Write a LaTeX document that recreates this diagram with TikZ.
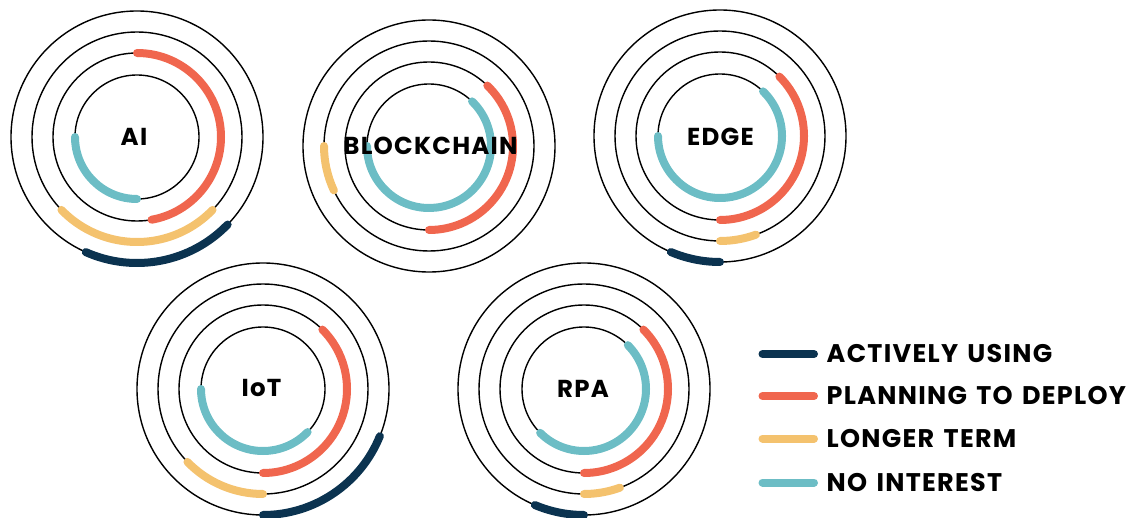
\documentclass[tikz,border=0pt]{standalone}
\usepackage{fontspec}
\setmainfont{Poppins}[LetterSpace=5,WordSpace=1.4]
\definecolor{navy}{HTML}{0B3350}
\definecolor{coral}{HTML}{F0664E}
\definecolor{sand}{HTML}{F4C26E}
\definecolor{aqua}{HTML}{6CBDC5}

\begin{document}
\begin{tikzpicture}[x=1pt,y=1pt]
   \tikzset{ring/.style={draw=black,line width=1.4pt},
            bar/.style={line width=8pt,line cap=round},
            tag/.style={inner sep=0pt,font=\fontsize{24.5}{24.5}\selectfont\bfseries},
            key/.style={tag,anchor=west,font=\fontsize{25.5}{25.5}\selectfont\bfseries}};
\useasboundingbox (0,0) rectangle (1134,517);

\coordinate (ai) at (137,380);
\coordinate (bc) at (429,371);
\coordinate (edge) at (720,381);
\coordinate (iot) at (263,128);
\coordinate (rpa) at (584,128);

\foreach \c in {ai,bc,edge,iot,rpa}
  \foreach \r in {62,84,105,126}
    \draw[ring] (\c) circle (\r);

% AI
\draw[bar,aqua] ([shift={(180:62)}]ai) arc (180:270:62);
\draw[bar,coral] ([shift={(90:84)}]ai) arc (90:-80:84);
\draw[bar,sand] ([shift={(224:105)}]ai) arc (224:316:105);
\draw[bar,navy] ([shift={(246:126)}]ai) arc (246:316:126);

% BLOCKCHAIN
\draw[bar,aqua] ([shift={(46:62)}]bc) arc (46:-180:62);
\draw[bar,coral] ([shift={(46:84)}]bc) arc (46:-90:84);
\draw[bar,sand] ([shift={(180:105)}]bc) arc (180:205:105);

% EDGE
\draw[bar,aqua] ([shift={(-180:62)}]edge) arc (-180:46:62);
\draw[bar,coral] ([shift={(45:84)}]edge) arc (45:-90:84);
\draw[bar,sand] ([shift={(-90:105)}]edge) arc (-90:-70:105);
\draw[bar,navy] ([shift={(-113:126)}]edge) arc (-113:-90:126);

% IoT
\draw[bar,aqua] ([shift={(180:62)}]iot) arc (180:316:62);
\draw[bar,coral] ([shift={(45:84)}]iot) arc (45:-90:84);
\draw[bar,sand] ([shift={(224:105)}]iot) arc (224:270:105);
\draw[bar,navy] ([shift={(-90:126)}]iot) arc (-90:-22:126);

% RPA
\draw[bar,aqua] ([shift={(45:62)}]rpa) arc (45:-135:62);
\draw[bar,coral] ([shift={(45:84)}]rpa) arc (45:-90:84);
\draw[bar,sand] ([shift={(-90:105)}]rpa) arc (-90:-70:105);
\draw[bar,navy] ([shift={(-113:126)}]rpa) arc (-113:-90:126);

\node[tag] (tai) at (134,380) {AI};
\node[tag] (tbc) at (430.5,371.5) {BLOCKCHAIN};
\node[tag] (tedge) at (720.5,380.5) {EDGE};
\node[tag] (tiot) at (261.5,129) {IoT};
\node[tag] (trpa) at (583,128.5) {RPA};

% legend
\node[key] (l1) at (826.5,163) {ACTIVELY USING};
\node[key] (l2) at (826.5,121) {PLANNING TO DEPLOY};
\node[key] (l3) at (826.5,78.5) {LONGER TERM};
\node[key] (l4) at (826.5,34.5) {NO INTEREST};
\draw[bar,navy] ([xshift=-64]l1.west) -- ([xshift=-12.5]l1.west);
\draw[bar,coral] ([xshift=-64]l2.west) -- ([xshift=-12.5]l2.west);
\draw[bar,sand] ([xshift=-64]l3.west) -- ([xshift=-12.5]l3.west);
\draw[bar,aqua] ([xshift=-64]l4.west) -- ([xshift=-12.5]l4.west);

\end{tikzpicture}
\end{document}
